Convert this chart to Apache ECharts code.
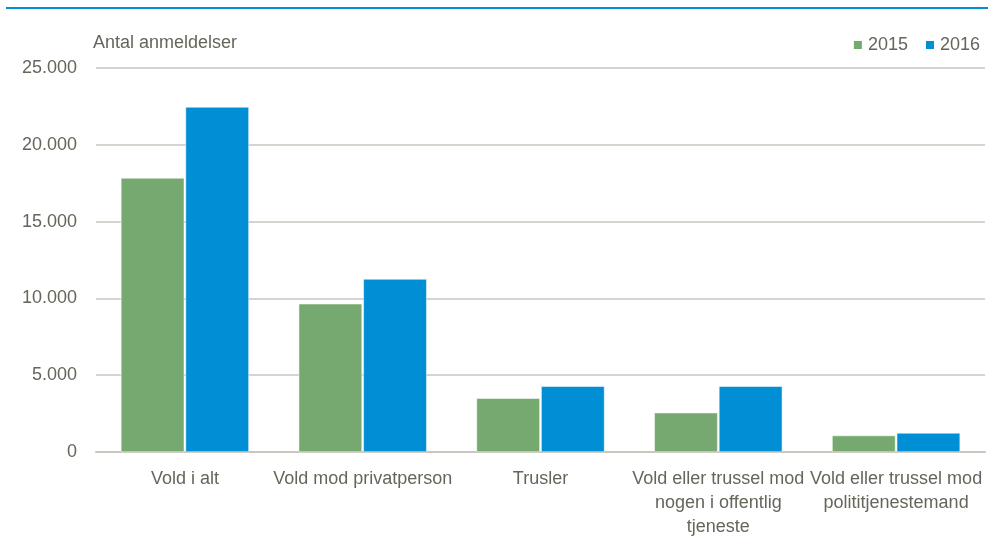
<!DOCTYPE html>
<html>
<head>
<meta charset="utf-8">
<script src="https://cdn.jsdelivr.net/npm/echarts@6/dist/echarts.min.js"></script>
<style>
  html, body { margin: 0; padding: 0; background: #fff; }
  #main { width: 988px; height: 539px; }
</style>
</head>
<body>
<div id="main"></div>
<script>
// data
var categories = [
  'Vold i alt',
  'Vold mod privatperson',
  'Trusler',
  'Vold eller trussel mod\nnogen i offentlig\ntjeneste',
  'Vold eller trussel mod\npolititjenestemand'
];
var years = ['2015', '2016'];
var values2015 = [17840, 9650, 3500, 2560, 1070];
var values2016 = [22460, 11260, 4280, 4280, 1240];
var yTicks = [0, 5000, 10000, 15000, 20000, 25000];

var textColor = '#66655a';
var fontFam = '"Liberation Sans Narrow", "Liberation Sans", Arial, sans-serif';

function fmt(v) {
  return String(v).replace(/\B(?=(\d{3})+(?!\d))/g, '.');
}

var myChart = echarts.init(document.getElementById('main'));
var option = {
  animation: false,
  color: ['#76a96f', '#008fd5'],
  textStyle: { fontFamily: fontFam },
  grid: { left: 96, right: 3, top: 68, bottom: 87 },
  graphic: [{
    type: 'rect',
    shape: { x: 6, y: 7, width: 982, height: 2 },
    style: { fill: '#008fd5' }
  }],
  legend: {
    data: years,
    right: 3,
    top: 31,
    itemWidth: 10,
    itemHeight: 10,
    itemGap: 16,
    icon: 'rect',
    textStyle: { color: textColor, fontSize: 18, fontFamily: fontFam }
  },
  xAxis: {
    type: 'category',
    data: categories,
    axisTick: { show: false },
    axisLine: { lineStyle: { color: '#c9c7bd', width: 2 } },
    axisLabel: {
      color: textColor,
      fontSize: 18,
      lineHeight: 24,
      margin: 15,
      interval: 0,
      fontFamily: fontFam
    }
  },
  yAxis: {
    type: 'value',
    min: yTicks[0],
    max: yTicks[yTicks.length - 1],
    interval: 5000,
    name: 'Antal anmeldelser',
    nameLocation: 'end',
    nameGap: 16,
    nameTextStyle: { color: textColor, fontSize: 18, align: 'left', padding: [0, 0, 0, -3], fontFamily: fontFam },
    axisLine: { show: false },
    axisTick: { show: false },
    splitLine: { lineStyle: { color: '#c9c7bd', width: 1.5 } },
    axisLabel: {
      color: textColor,
      fontSize: 18,
      margin: 19,
      fontFamily: fontFam,
      formatter: function (v) { return fmt(v); }
    }
  },
  series: [{
    name: years[0],
    type: 'bar',
    data: values2015,
    barGap: '2%',
    barCategoryGap: '28%',
    itemStyle: { borderColor: '#ffffff', borderWidth: 0.5 }
  }, {
    name: years[1],
    type: 'bar',
    data: values2016,
    barGap: '2%',
    barCategoryGap: '28%',
    itemStyle: { borderColor: '#ffffff', borderWidth: 0.5 }
  }]
};
myChart.setOption(option, true);
</script>
</body>
</html>
